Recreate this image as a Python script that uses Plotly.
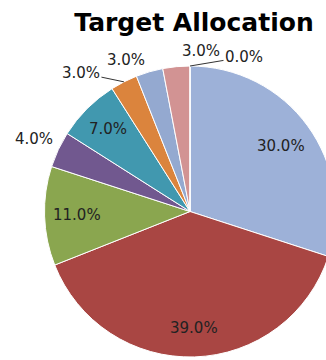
import math
import plotly.graph_objects as go

# Allocation shares (percent), clockwise from 12 o'clock
categories = ["Asset A", "Asset B", "Asset C", "Asset D", "Asset E",
              "Asset F", "Asset G", "Asset H", "Asset I"]
values = [30.0, 39.0, 11.0, 4.0, 7.0, 3.0, 3.0, 3.0, 0.0]
colors = ["#9DB1D8", "#A94643", "#8AA64F", "#71588F", "#4198AF",
          "#DB843D", "#94A9D0", "#D29393", "#9DB1D8"]

# Label placement per slice: inside labels sit at a fraction of the radius
# along the slice's mid angle; outside labels are offset (px) from the rim,
# optionally joined to it by a leader line.
label_style = [
    dict(kind="in", frac=0.77),
    dict(kind="in", frac=0.80),
    dict(kind="in", frac=0.78),
    dict(kind="out", dx=-24, dy=-11, line=False),
    dict(kind="in", frac=0.80),
    dict(kind="out", dx=-43, dy=-9, line=True),
    dict(kind="out", dx=-23, dy=-12, line=False),
    dict(kind="out", dx=25, dy=-16, line=False),
    dict(kind="out", dx=54, dy=-9, line=True),
]

W, H = 340, 360
ML, MR, MT, MB = 44, 4, 66, 3
pw, ph = W - ML - MR, H - MT - MB
R = min(pw, ph) / 2
cx, cy = pw / 2, ph / 2  # pie centre in plot-area pixels

fig = go.Figure(go.Pie(
    labels=categories,
    values=values,
    sort=False,
    direction="clockwise",
    rotation=0,
    marker=dict(colors=colors, line=dict(color="white", width=1)),
    textinfo="none",
    hoverinfo="label+percent",
    showlegend=False,
    domain=dict(x=[0, 1], y=[0, 1]),
))

label_font = dict(family="DejaVu Sans", size=15, color="#222222")
total = sum(values)
start = 0.0
for v, st in zip(values, label_style):
    mid = (start + v / 2) / total * 2 * math.pi
    start += v
    if st["kind"] == "in":
        r = R * st["frac"]
        px, py = cx + r * math.sin(mid), cy - r * math.cos(mid)
        fig.add_annotation(x=px / pw, y=1 - py / ph, xref="paper", yref="paper",
                           xanchor="center", yanchor="middle",
                           text=f"{v:.1f}%", showarrow=False, font=label_font)
    else:
        px, py = cx + R * math.sin(mid), cy - R * math.cos(mid)
        fig.add_annotation(x=px / pw, y=1 - py / ph, xref="paper", yref="paper",
                           xanchor="center", yanchor="middle",
                           text=f"{v:.1f}%", font=label_font,
                           showarrow=True, arrowhead=0, arrowwidth=1,
                           arrowcolor="#333333" if st["line"] else "rgba(0,0,0,0)",
                           ax=st["dx"], ay=st["dy"], standoff=0)

fig.update_layout(
    width=W, height=H,
    margin=dict(l=ML, r=MR, t=MT, b=MB),
    paper_bgcolor="white",
    title=dict(text="<b>Target Allocation</b>", x=194 / W, xanchor="center",
               y=1 - 22 / H, yanchor="middle",
               font=dict(family="DejaVu Sans", size=25, color="#000000")),
)

fig.write_html("out.html", post_script="document.body.style.overflow='hidden';")
